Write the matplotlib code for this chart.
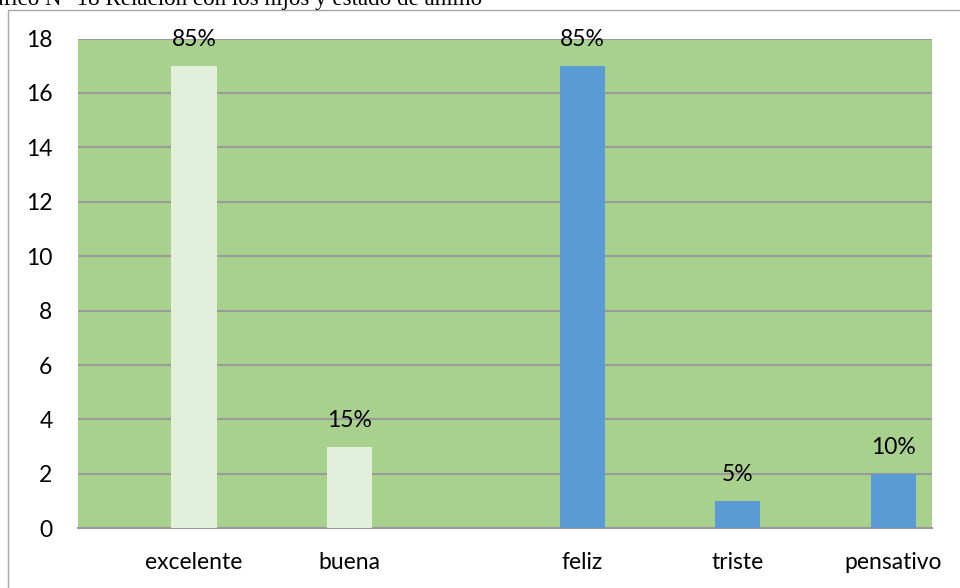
import matplotlib
matplotlib.use("Agg")
import matplotlib.pyplot as plt
from matplotlib.patches import Rectangle

# Data
categories = ["excelente", "buena", "feliz", "triste", "pensativo"]
values = [17, 3, 17, 1, 2]
pct_labels = ["85%", "15%", "85%", "5%", "10%"]
groups = ["relacion", "relacion", "animo", "animo", "animo"]
yticks = [0, 2, 4, 6, 8, 10, 12, 14, 16, 18]
title = "Gráfico N° 18 Relación con los hijos y estado de ánimo"

# Layout (slot positions in 11-unit axis)
positions = [1.5, 3.5, 6.5, 8.5, 10.5]
group_colors = {"relacion": "#E2EFDA", "animo": "#5B9BD5"}

W, H = 960, 588
fig = plt.figure(figsize=(W / 100, H / 100), dpi=100)
font = "Lato"
fs = 16.5

# outer frame
fig.patches.append(Rectangle((8 / W, -0.01), (W + 5 - 8) / W, (H - 9.5) / H + 0.01,
                             transform=fig.transFigure, fill=False,
                             edgecolor="#A6A6A6", linewidth=1.0, zorder=0))

ax = fig.add_axes([77.5 / W, (H - 528.3) / H, (932 - 77.5) / W, (528.3 - 38.5) / H])
ax.set_facecolor("#A9D18E")
ax.set_xlim(0, 11)
ax.set_ylim(0, 18)
ax.set_yticks(yticks)
ax.yaxis.grid(True, color="#9A9A9A", linewidth=1.5)
ax.set_axisbelow(True)
for s in ["left", "right", "top"]:
    ax.spines[s].set_visible(False)
ax.spines["bottom"].set_color("#9A9A9A")
ax.spines["bottom"].set_linewidth(1.5)

colors = [group_colors[g] for g in groups]
bars = ax.bar(positions, values, width=0.58, color=colors, zorder=3)
for b, lab in zip(bars, pct_labels):
    ax.annotate(lab, (b.get_x() + b.get_width() / 2, b.get_height()),
                xytext=(0, 14.4), textcoords="offset points", ha="center", va="baseline",
                fontsize=fs, family=font, color="#000000", zorder=4)

ax.set_xticks(positions)
ax.set_xticklabels(categories)
ax.tick_params(axis="both", length=0, labelsize=fs, labelcolor="#000000")
ax.tick_params(axis="y", pad=18)
ax.tick_params(axis="x", pad=17)
for t in ax.get_xticklabels() + ax.get_yticklabels():
    t.set_family(font)

fig.text(482 / W, 1 - 5.5 / H, title, ha="right", va="baseline",
         fontsize=16.6, family="Liberation Serif", color="#000000")

fig.savefig("out.png", dpi=100)
